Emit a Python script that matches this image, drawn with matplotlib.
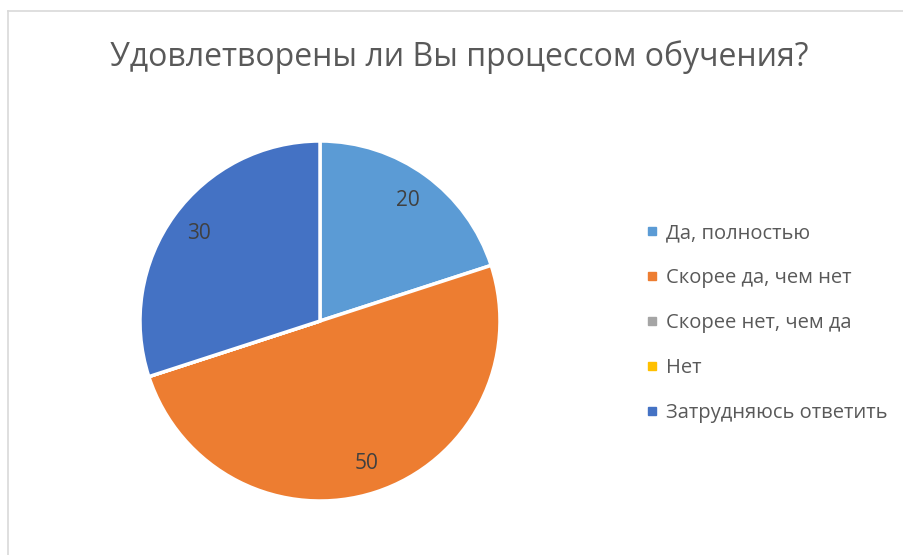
import math
import matplotlib.pyplot as plt
from matplotlib.lines import Line2D

# data
categories = ["Да, полностью", "Скорее да, чем нет", "Скорее нет, чем да", "Нет", "Затрудняюсь ответить"]
values = [20, 50, 0, 0, 30]
colors = ["#5B9BD5", "#ED7D31", "#A5A5A5", "#FFC000", "#4472C4"]
title = "Удовлетворены ли Вы процессом обучения?"

W, H = 904, 555
plt.rcParams['font.family'] = ['Open Sans', 'DejaVu Sans']

fig = plt.figure(figsize=(W / 100, H / 100), dpi=100)

# pie placed in pixel terms: centre (320, 321), radius 180
cx, cy, r = 320, 321, 180
ax = fig.add_axes([(cx - r) / W, (H - cy - r) / H, 2 * r / W, 2 * r / H])
wedges, _ = ax.pie(values, colors=colors, startangle=90, counterclock=False,
                   wedgeprops=dict(edgecolor="white", linewidth=2.5))
ax.set_xlim(-1, 1)
ax.set_ylim(-1, 1)
ax.set_aspect("equal")
ax.axis("off")

# value labels at the middle of each non-empty slice
total = sum(values)
start = 90.0
for v in values:
    sweep = 360.0 * v / total
    if v > 0:
        mid = math.radians(start - sweep / 2)
        ax.text(0.83 * math.cos(mid), 0.83 * math.sin(mid), str(v),
                ha="center", va="center", fontsize=15, color="#404040")
    start -= sweep

fig.text(459 / W, 1 - 57 / H, title, ha="center", va="center",
         fontsize=23, color="#595959")

handles = [Line2D([], [], marker="s", linestyle="none", markersize=5.5,
                  markerfacecolor=c, markeredgecolor=c) for c in colors]
fig.legend(handles, categories, loc="center left",
           bbox_to_anchor=(627 / W, 1 - 323 / H), frameon=False,
           fontsize=14.5, labelcolor="#595959", handletextpad=0.35,
           labelspacing=1.24, handlelength=0.7)

# chart border (only left and top visible in the crop)
fig.add_artist(Line2D([7.5 / W, 7.5 / W], [0, 1 - 10.5 / H], color="#D9D9D9", linewidth=1.2))
fig.add_artist(Line2D([7.5 / W, 1], [1 - 10.5 / H, 1 - 10.5 / H], color="#D9D9D9", linewidth=1.2))

fig.savefig("out.png", dpi=100)
